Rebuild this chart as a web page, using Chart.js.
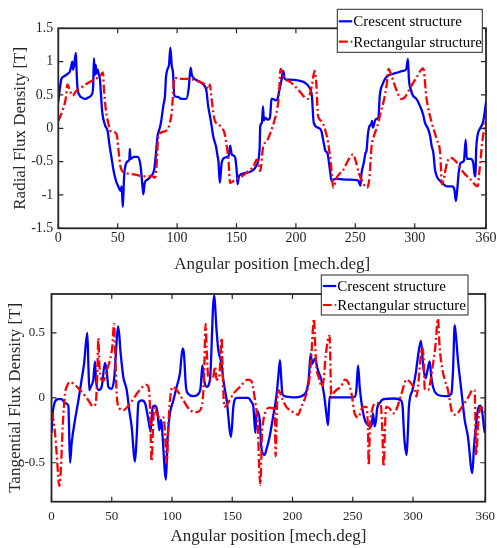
<!DOCTYPE html>
<html>
<head>
<meta charset="utf-8">
<script src="https://cdn.jsdelivr.net/npm/chart.js@4.4.0/dist/chart.umd.min.js"></script>
<style>
  body { margin: 0; background: #fff; }
  canvas { position: absolute; left: 0; }
  #radial { top: 0; }
  #tangential { top: 262px; }
</style>
</head>
<body>
<canvas id="radial" width="497" height="280"></canvas>
<canvas id="tangential" width="497" height="286"></canvas>
<script>
// --- data: [angle (mech.deg), flux density (T)]
const radialCrescent = [
  [0,0.40],[1.5,0.62],[2.6,0.74],[5,0.78],[8,0.82],[9.7,0.85],[11,0.94],[11.8,1.0],[12.4,0.88],[13.4,0.95],
  [14.8,1.13],[15.3,0.9],[16,0.64],[18,0.49],[20,0.46],[22.4,0.44],[25,0.46],[28,0.5],[29.3,0.62],[30,1.05],
  [30.8,0.8],[31.5,0.95],[32.2,0.82],[33.2,0.88],[34,0.81],[35,0.74],[36,0.49],[37,0.24],[39.5,0.04],[41.5,-0.04],
  [43,-0.24],[44.6,-0.42],[46.6,-0.64],[48.6,-0.79],[50.9,-0.89],[52.3,-0.94],[53.3,-0.87],[54.3,-1.18],[55.4,-0.72],[56.8,-0.54],
  [58.8,-0.49],[59.8,-0.47],[60.2,-0.31],[60.8,-0.46],[63.6,-0.43],[67,-0.43],[69.3,-0.57],[70.7,-0.84],[71.6,-0.99],[72.7,-0.82],
  [75,-0.77],[77.8,-0.72],[80.7,-0.62],[82,-0.42],[83.5,-0.12],[85,-0.02],[86.4,0.085],[88.4,0.34],[89.8,0.49],[90.6,0.76],
  [92,0.89],[93.2,0.95],[94.3,1.21],[95.5,0.94],[96.5,0.84],[97.7,0.49],[100.6,0.47],[103.4,0.44],[107.7,0.44],[109.7,0.59],
  [111.4,0.91],[112.3,0.81],[113.6,0.76],[117.6,0.71],[121.9,0.66],[124.7,0.56],[126.1,0.34],[128.4,0.11],[130.4,-0.12],[132.7,-0.27],
  [134.1,-0.42],[134.8,-0.5],[136,-0.82],[137.5,-0.52],[140.3,-0.44],[143.5,-0.41],[144.6,-0.26],[146,-0.39],[148.9,-0.44],[150.3,-0.67],
  [150.9,-0.84],[152.2,-0.71],[157.4,-0.67],[163,-0.64],[167,-0.55],[169.4,-0.32],[170,0.035],[171.4,0.085],[172.3,0.33],[173,0.12],
  [174.3,0.16],[176,0.13],[178,0.15],[178.6,0.24],[179.4,0.44],[180.5,0.44],[182.9,0.42],[184.5,0.44],[185.7,0.54],[187.7,0.71],
  [189.4,0.86],[190.6,0.74],[194.3,0.73],[201.4,0.72],[207,0.69],[211.4,0.61],[213.4,0.49],[215,0.085],[218.6,0.01],[221.4,-0.04],
  [222.9,-0.17],[224.9,-0.34],[226.5,-0.37],[228.6,-0.62],[230,-0.79],[231.5,-0.77],[234.3,-0.76],[244.3,-0.77],[252.3,-0.78],[254.3,-0.86],
  [255.1,-0.69],[257.1,-0.52],[258.6,-0.37],[259.4,-0.34],[260.6,-0.09],[262,0.035],[263.4,0.06],[264,0.11],[264.8,0.01],[267.1,0.135],
  [269.4,0.16],[270.6,0.49],[272.9,0.66],[275.7,0.76],[278.6,0.8],[284.3,0.83],[290,0.86],[292.9,0.89],[294.3,1.04],[295.1,0.74],
  [297.1,0.56],[298.5,0.49],[301.4,0.44],[304.3,0.34],[307,0.21],[308.6,0.085],[311.4,-0.015],[313,-0.12],[314.3,-0.27],[315.7,-0.37],
  [317.1,-0.62],[319.1,-0.74],[321.4,-0.79],[324.3,-0.84],[327,-0.87],[331.4,-0.87],[333.4,-0.92],[334.6,-1.09],[335.7,-0.94],[337,-0.67],
  [338.6,-0.52],[341.4,-0.49],[342.9,-0.17],[343.8,-0.46],[347,-0.46],[349.3,-0.52],[350.6,-0.72],[351.2,-0.72],[351.7,-0.32],[354.6,-0.015],
  [357.4,0.085],[358.9,0.24],[360,0.39]
];
const radialRectangular = [
  [0,0.11],[4,0.29],[6.2,0.44],[7.7,0.66],[9.7,0.57],[12,0.49],[15,0.56],[20,0.62],[25,0.68],[30,0.73],
  [35,0.78],[37.5,0.84],[38.6,0.54],[40.3,0.24],[42.3,0.06],[43.8,-0.04],[48,-0.065],[49.4,-0.115],[50.9,-0.37],[52.3,-0.57],
  [53.7,-0.64],[56.5,-0.67],[63.6,-0.69],[72,-0.72],[79,-0.72],[81.5,-0.74],[83,-0.47],[84,-0.14],[86.4,-0.065],[92,-0.015],
  [94,0.085],[95.5,0.24],[96.3,0.44],[97.7,0.76],[102,0.74],[109,0.74],[117,0.71],[123.3,0.66],[126.7,0.59],[127.6,0.66],
  [129,0.44],[131.8,0.11],[134.7,0.06],[137.5,0.01],[139.8,-0.065],[141.8,-0.27],[143.2,-0.47],[144.6,-0.82],[148.9,-0.77],[154.5,-0.72],
  [160.2,-0.64],[164.3,-0.57],[167.1,-0.47],[170,-0.64],[172.3,-0.29],[175.7,-0.19],[178.6,-0.065],[181.4,0.085],[184.3,0.29],[185.7,0.49],
  [187.1,0.89],[190,0.76],[195.7,0.69],[201.4,0.59],[210,0.44],[213.4,0.64],[215.7,0.86],[217.1,0.69],[218.6,0.19],[221.4,0.11],
  [224.9,-0.04],[227.1,-0.22],[229.4,-0.52],[231.4,-0.89],[234.3,-0.74],[240,-0.62],[244.3,-0.47],[248,-0.39],[250,-0.47],[252.9,-0.67],
  [255.1,-0.77],[260,-0.89],[262,-0.72],[263.7,-0.27],[265.7,-0.115],[268.6,0.035],[271.4,0.24],[274.3,0.44],[276.3,0.64],[278,0.89],
  [280,0.81],[284.3,0.59],[288.6,0.44],[291.4,0.46],[295.7,0.59],[301.4,0.76],[307.1,0.9],[310,0.44],[314.3,0.085],[318.6,-0.17],
  [321.4,-0.37],[322.9,-0.84],[324.3,-0.77],[327.1,-0.52],[330,-0.44],[334.3,-0.49],[341.4,-0.67],[347.1,-0.77],[352.9,-0.87],[354.3,-0.67],
  [357.1,-0.17],[360,0.11]
];
const tangCrescent = [
  [0,-0.27],[1,-0.12],[2.9,-0.03],[5.7,-0.01],[8.4,-0.01],[11.2,-0.04],[14,-0.06],[14.5,-0.2],[15.4,-0.5],[16.7,-0.35],
  [19.5,-0.17],[22.3,-0.02],[25,0.14],[27,0.26],[29.7,0.5],[30.6,0.26],[31.4,0.06],[32.5,0.085],[34.7,0.14],[36.1,0.28],
  [36.9,0.14],[38.9,0.06],[41.6,0.085],[44.4,0.27],[45.8,0.21],[47.2,0.085],[49.9,0.07],[51.9,0.14],[55.4,0.55],[57.4,0.34],
  [59.6,0.16],[62.4,0.06],[64.6,-0.1],[66.5,-0.22],[69.3,-0.49],[70.7,-0.3],[72.1,-0.04],[74.8,-0.02],[77.6,-0.04],[80.4,-0.17],
  [82.3,-0.26],[84,-0.07],[85.9,-0.06],[87.8,-0.1],[89.5,-0.25],[90.6,-0.17],[91.4,-0.2],[95,-0.63],[96.4,-0.3],[98.3,-0.12],
  [101.1,-0.02],[103.9,0.085],[106.6,0.19],[108.8,0.38],[109.9,0.34],[111.6,0.085],[113.6,0.03],[117.7,0.013],[121.9,0.03],[123.8,0.085],
  [125.2,0.25],[126.6,0.14],[128.8,0.085],[131.5,0.14],[134.9,0.79],[137,0.52],[138.4,0.37],[141.2,0.26],[142.6,0.14],[145.4,-0.02],
  [149,-0.3],[150.9,-0.07],[153.7,0],[159.2,0],[163,0],[165.8,-0.03],[167.5,-0.07],[169.2,-0.27],[170.2,-0.1],[171.4,-0.11],
  [172.8,-0.17],[174.1,-0.38],[176.9,-0.44],[178.3,-0.4],[181,-0.3],[183.8,-0.15],[186.6,0.01],[188,0.14],[189.6,0.29],[190.7,0.14],
  [191.6,0.03],[194.9,0.01],[201.8,0.003],[207.3,0.013],[211.5,0.05],[213.4,0.14],[215.1,0.34],[216.2,0.26],[218.4,0.3],[221.2,0.21],
  [223.9,0.14],[226.1,0.03],[228.1,-0.12],[229.5,-0.21],[230.8,0.01],[233.6,0.003],[246.1,0.003],[251.6,0.008],[253,0.06],[254.4,0.25],
  [255.8,0.08],[257.3,-0.04],[260,-0.17],[262.7,-0.21],[265.5,-0.22],[266.8,-0.12],[268.2,-0.22],[269.6,-0.15],[270.1,-0.09],[272.3,-0.04],
  [275.6,-0.01],[284.8,-0.005],[290,-0.02],[291.4,-0.07],[292.7,-0.3],[294.7,-0.44],[295.8,-0.25],[296.6,-0.07],[299.6,0.06],[302.3,0.19],
  [303.7,0.29],[306.6,0.44],[308.5,0.24],[310.4,0.15],[312,0.21],[313.8,0.28],[315.2,0.16],[317.1,0.07],[321.3,0.02],[328.2,0.013],
  [331.8,0.03],[333.2,0.21],[334.6,0.56],[336,0.44],[337.3,0.29],[340.1,0.06],[342.9,-0.17],[345.6,-0.3],[349.2,-0.58],[350.6,-0.38],
  [352.2,-0.22],[354.1,-0.08],[356,-0.06],[357.3,-0.1],[359.4,-0.26],[360,-0.27]
];
const tangRectangular = [
  [0,-0.11],[1.5,-0.17],[2.9,-0.27],[4.3,-0.43],[6.5,-0.68],[7.9,-0.53],[9.3,-0.22],[11.2,0.03],[12.6,0.085],[14.8,0.12],
  [18.1,0.11],[23.7,0.06],[29.2,0],[34.7,-0.065],[36.7,-0.04],[38,0.19],[38.9,0.46],[39.7,0.26],[41.1,0.15],[43,0.13],
  [45.8,0.21],[48.5,0.29],[50.4,0.39],[51.9,0.57],[52.7,0.39],[54.1,0.03],[56.3,-0.08],[59.6,-0.095],[65.1,-0.045],[70.7,0.03],
  [76.2,0.09],[79,0.1],[80.9,0.06],[81.7,-0.07],[83.1,-0.49],[84.5,-0.17],[85.9,-0.07],[87.3,-0.12],[90,-0.15],[92.8,-0.15],
  [94.2,-0.27],[95.6,-0.5],[97,-0.22],[98.3,-0.02],[100.6,0.085],[103.9,0.06],[109.4,-0.02],[115,-0.095],[120.5,-0.11],[124.6,-0.07],
  [126.5,0.14],[127.9,0.57],[128.7,0.39],[130.1,0.16],[132.9,0.14],[134.3,0.16],[135.7,0.24],[137,0.14],[139.2,0.16],[141.2,0.46],
  [142,0.21],[143.4,-0.07],[145.4,-0.055],[150.9,0.03],[156.4,0.085],[163,0.14],[165.8,0.13],[167.2,0.085],[169.2,-0.04],[170.9,-0.17],
  [173.3,-0.67],[174.7,-0.27],[175.9,-0.17],[178.3,-0.095],[181,-0.075],[183.8,-0.08],[185.2,-0.09],[186,-0.45],[187.1,-0.07],[188.5,0.06],
  [190.7,0.01],[194.9,-0.07],[200.4,-0.11],[204.6,-0.13],[207.3,-0.07],[211.5,0.03],[214.2,0.16],[215.6,0.32],[217.8,0.61],[218.9,0.39],
  [219.8,0.24],[221.7,0.16],[224.5,0.085],[226.1,0.16],[227.5,0.32],[230.8,0.48],[231.6,0.19],[232.2,0],[233.6,0.03],[236.4,0.06],
  [240.5,0.09],[243.3,0.14],[246.1,0.12],[248.8,0.04],[251.6,-0.12],[254.4,-0.15],[258.5,-0.07],[261.3,-0.07],[262.7,-0.27],[263.2,-0.52],
  [264.3,-0.22],[266,-0.095],[269.6,-0.04],[273.2,-0.05],[274.3,-0.2],[275.7,-0.53],[276.8,-0.22],[277.7,-0.07],[280.5,-0.08],[283.4,-0.12],
  [286.2,-0.09],[290.4,0.03],[294.6,0.14],[298.6,0.11],[301.4,0.06],[302.8,0.01],[304.2,0.09],[306.4,0.32],[307.5,0.39],[308.9,0.29],
  [309.7,0.07],[312.5,0.06],[314.7,0.14],[316.6,0.26],[318.5,0.39],[320.7,0.61],[322.1,0.39],[324,0.24],[326.3,0.14],[329,0.06],
  [332.4,-0.11],[335.2,-0.13],[340.7,-0.07],[346.2,0.01],[349.5,0.06],[351.1,0.06],[351.7,-0.13],[352.5,-0.44],[353.9,-0.22],[355.3,-0.095],
  [356.7,-0.07],[358.1,-0.095],[360,-0.11]
];
const seriesNames = ['Crescent structure', 'Rectangular structure'];
const angleTicks = [0, 50, 100, 150, 200, 250, 300, 360];
const radialTicks = [-1.5, -1, -0.5, 0, 0.5, 1, 1.5];
const tangTicks = [-0.5, 0, 0.5];

const FONT = "'Liberation Serif', 'Times New Roman', serif";
const AXIS_COLOR = '#262626';

// axes box with inside ticks (MATLAB style) + boxed legend
const matlabBox = {
  id: 'matlabBox',
  afterDatasetsDraw(chart) {
    const { ctx, chartArea: a, scales } = chart;
    ctx.save();
    ctx.strokeStyle = AXIS_COLOR;
    ctx.lineWidth = 1.8;
    ctx.strokeRect(a.left, a.top, a.right - a.left, a.bottom - a.top);
    ctx.lineWidth = 1.2;
    ctx.beginPath();
    scales.x.ticks.forEach(function (t) {
      const px = scales.x.getPixelForValue(t.value);
      ctx.moveTo(px, a.bottom); ctx.lineTo(px, a.bottom - 5);
      ctx.moveTo(px, a.top); ctx.lineTo(px, a.top + 5);
    });
    scales.y.ticks.forEach(function (t) {
      const py = scales.y.getPixelForValue(t.value);
      ctx.moveTo(a.left, py); ctx.lineTo(a.left + 5, py);
      ctx.moveTo(a.right, py); ctx.lineTo(a.right - 5, py);
    });
    ctx.stroke();
    ctx.restore();
  },
  afterDraw(chart, args, opts) {
    const lg = opts.legend;
    if (!lg) return;
    const ctx = chart.ctx;
    ctx.save();
    ctx.fillStyle = '#fff';
    ctx.fillRect(lg.x, lg.y, lg.w, lg.h);
    ctx.strokeStyle = AXIS_COLOR;
    ctx.lineWidth = 1;
    ctx.strokeRect(lg.x, lg.y, lg.w, lg.h);
    ctx.font = lg.fontSize + 'px ' + FONT;
    ctx.textBaseline = 'middle';
    ctx.textAlign = 'left';
    seriesNames.forEach(function (name, i) {
      const ds = chart.data.datasets.find(d => d.label === name);
      const ry = lg.rows[i];
      ctx.beginPath();
      ctx.strokeStyle = ds.borderColor;
      ctx.lineWidth = 2.2;
      ctx.setLineDash(ds.borderDash || []);
      ctx.moveTo(lg.x + 1.5, ry);
      ctx.lineTo(lg.x + 15, ry);
      ctx.stroke();
      ctx.setLineDash([]);
      ctx.fillStyle = '#000';
      ctx.fillText(name, lg.x + 16, ry + 1);
    });
    ctx.restore();
  }
};

function toPoints(arr) {
  return arr.map(p => ({ x: p[0], y: p[1] }));
}

function drawPanel(id, crescent, rectangular, yTicks, yMin, yMax, yTitle, L) {
  new Chart(document.getElementById(id), {
    type: 'line',
    data: {
      datasets: [{
        label: seriesNames[0],
        data: toPoints(crescent),
        borderColor: '#0000ff',
        borderWidth: 2.3,
        pointRadius: 0,
        cubicInterpolationMode: 'monotone',
        order: 1
      }, {
        label: seriesNames[1],
        data: toPoints(rectangular),
        borderColor: '#ff0000',
        borderWidth: 2.3,
        borderDash: [9, 3, 2, 3],
        pointRadius: 0,
        cubicInterpolationMode: 'monotone',
        order: 0
      }]
    },
    options: {
      responsive: false,
      animation: false,
      events: [],
      layout: { padding: { left: 0, top: L.top, right: L.right, bottom: 0 } },
      plugins: {
        legend: { display: false },
        tooltip: { enabled: false },
        matlabBox: { legend: L.legend }
      },
      scales: {
        x: {
          type: 'linear',
          min: 0, max: 360,
          afterBuildTicks: s => { s.ticks = angleTicks.map(v => ({ value: v })); },
          afterFit: s => { s.height = L.xHeight; s.paddingLeft = 0; s.paddingRight = 0; },
          grid: { display: false, drawTicks: false },
          border: { display: false },
          ticks: {
            padding: L.xPad, color: AXIS_COLOR, maxRotation: 0, autoSkip: false,
            font: { family: FONT, size: L.tickSize },
            callback: v => String(v)
          },
          title: {
            display: true, text: 'Angular position [mech.deg]', color: AXIS_COLOR,
            font: { family: FONT, size: 17 }, padding: { top: 0, bottom: L.xTitlePad }
          }
        },
        y: {
          min: yMin, max: yMax,
          afterBuildTicks: s => { s.ticks = yTicks.map(v => ({ value: v })); },
          afterFit: s => { s.width = L.yWidth; s.paddingTop = 0; s.paddingBottom = 0; },
          grid: { display: false, drawTicks: false },
          border: { display: false },
          ticks: {
            padding: L.yPad, color: AXIS_COLOR, autoSkip: false,
            font: { family: FONT, size: L.tickSize },
            callback: v => String(v)
          },
          title: {
            display: true, text: yTitle, color: AXIS_COLOR,
            font: { family: FONT, size: 17 }, padding: { top: L.yTitlePad, bottom: 0 }
          }
        }
      }
    },
    plugins: [matlabBox]
  });
}

drawPanel('radial', radialCrescent, radialRectangular, radialTicks, -1.5, 1.5, 'Radial Flux Density [T]', {
  top: 28.3, right: 11, yWidth: 58.3, xHeight: 280 - 228.3,
  xPad: 2, yPad: 5, tickSize: 14, xTitlePad: 5, yTitlePad: 10,
  legend: { x: 337.3, y: 9.3, w: 145, h: 43, rows: [21.3, 41.7], fontSize: 15 }
});

drawPanel('tangential', tangCrescent, tangRectangular, tangTicks, -0.8, 0.8, 'Tangential Flux Density [T]', {
  top: 32, right: 11.7, yWidth: 51.5, xHeight: 286 - 239.7,
  xPad: 7, yPad: 6.5, tickSize: 13, xTitlePad: 1, yTitlePad: 5,
  legend: { x: 321.3, y: 13, w: 146.7, h: 40, rows: [24, 43], fontSize: 15 }
});
</script>
</body>
</html>
